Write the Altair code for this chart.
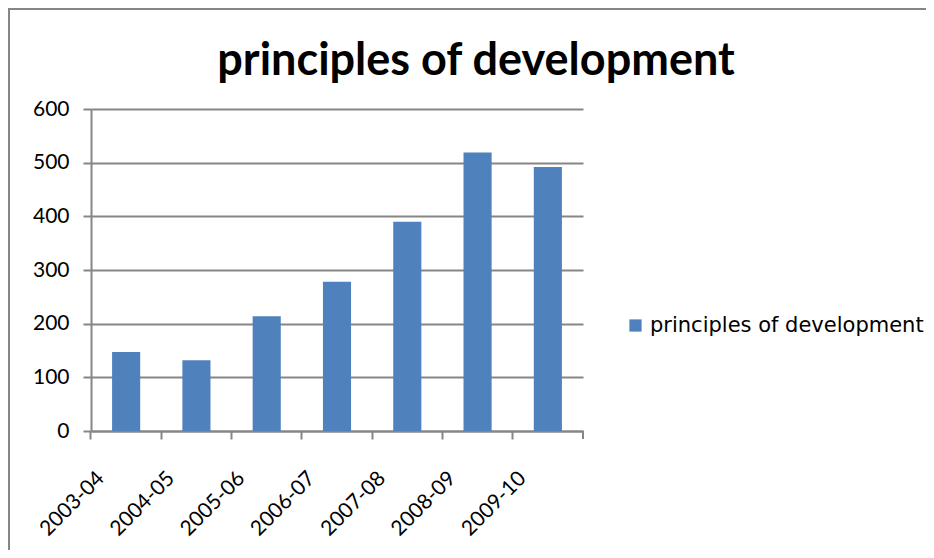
import altair as alt
import pandas as pd

years = ["2003-04", "2004-05", "2005-06", "2006-07", "2007-08", "2008-09", "2009-10"]
values = [147, 132, 214, 278, 390, 519, 492]
series = "principles of development"
chart_title = "principles of development"

df = pd.DataFrame({"year": years, "value": values, "series": [series] * len(years)})

grid = "#868686"

bars = alt.Chart(df).mark_bar(color="#4F81BD").encode(
    x=alt.X("year:N", sort=years, title=None,
            scale=alt.Scale(paddingInner=0.6, paddingOuter=0.3),
            axis=alt.Axis(labelAngle=-45, labelAlign="right", labelBaseline="middle",
                          labelFontSize=21, labelFont="Lato", labelColor="#000000",
                          labelOffset=-25, labelPadding=36,
                          bandPosition=-0.75, tickColor=grid, tickSize=8, tickWidth=2,
                          domainColor=grid, domainWidth=2, grid=False)),
    y=alt.Y("value:Q", title=None,
            scale=alt.Scale(domain=[0, 600]),
            axis=alt.Axis(values=[0, 100, 200, 300, 400, 500, 600],
                          labelFontSize=21, labelFont="Lato", labelColor="#000000",
                          labelPadding=14, tickColor=grid, tickSize=8, tickWidth=2,
                          domainColor=grid, domainWidth=2,
                          gridColor=grid, gridWidth=2)),
    color=alt.Color("series:N", scale=alt.Scale(range=["#4F81BD"]),
                    legend=alt.Legend(title=None, orient="none", legendX=534, legendY=206,
                                      symbolType="square", symbolSize=150,
                                      symbolStrokeWidth=0,
                                      labelFontSize=21, labelFont="DejaVu Sans",
                                      labelColor="#000000", labelLimit=400)),
)

frame = alt.Data(values=[{"k": 1}])
last_tick = alt.Chart(frame).mark_rule(color=grid, strokeWidth=2).encode(
    x=alt.value(492), y=alt.value(322), y2=alt.value(330))
top_line = alt.Chart(frame).mark_rule(color=grid, strokeWidth=2).encode(
    x=alt.value(-83), x2=alt.value(840), y=alt.value(-100))
left_line = alt.Chart(frame).mark_rule(color=grid, strokeWidth=2).encode(
    x=alt.value(-82), y=alt.value(-101), y2=alt.value(445))
title_text = alt.Chart(frame).mark_text(
    fontSize=45, font="Lato", fontWeight="bold", color="#000000",
    align="center", baseline="alphabetic").encode(
    text=alt.value(chart_title), x=alt.value(385), y=alt.value(-34))

chart = alt.layer(bars, last_tick, top_line, left_line, title_text).properties(
    width=492, height=322,
    padding={"left": 83, "top": 101, "right": 343, "bottom": 119},
    autosize=alt.AutoSizeParams(type="none"),
).configure_view(stroke=None)

chart.save("out.html", embed_options={"renderer": "svg", "actions": False})
